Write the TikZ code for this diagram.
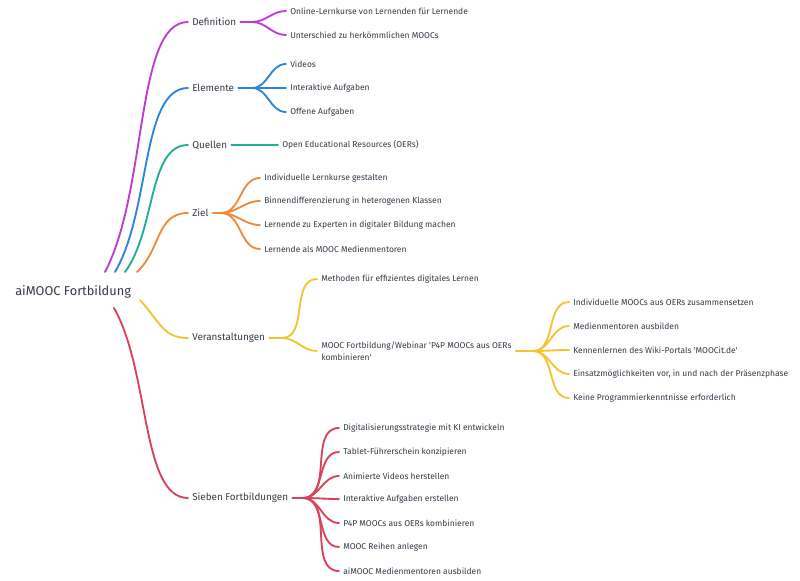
\documentclass[tikz,border=0pt]{standalone}
\usepackage{fontspec}
\setmainfont{Fira Sans}

\definecolor{txt}{HTML}{333A45}
\definecolor{cdef}{HTML}{C03BD1}
\definecolor{celem}{HTML}{2D84DB}
\definecolor{cquel}{HTML}{1FAE96}
\definecolor{cziel}{HTML}{EE8A3C}
\definecolor{cvera}{HTML}{F4C330}
\definecolor{csieb}{HTML}{D7435B}

\begin{document}
\begin{tikzpicture}[
  x=0.75pt, y=-0.75pt,
  line cap=round, line join=round,
  every node/.style={text=txt, anchor=west, inner sep=3pt},
  root/.style={font=\fontsize{9.6}{12}\selectfont},
  topic/.style={font=\fontsize{7.4}{9.5}\selectfont},
  leaf/.style={font=\fontsize{6.35}{9}\selectfont},
  link/.style={line width=1.4pt},
]
\useasboundingbox (0,0) rectangle (800,581);

% root and first level
\node[root] (root) at (11,292) {aiMOOC Fortbildung};
\node[topic] (def)  at (188,22)  {Definition};
\node[topic] (elem) at (188,88)  {Elemente};
\node[topic] (quel) at (188,145) {Quellen};
\node[topic] (ziel) at (188,213) {Ziel};
\node[topic] (vera) at (188,338) {Veranstaltungen};
\node[topic] (sieb) at (188,498) {Sieben Fortbildungen};

\coordinate (rdef)  at (105,272);
\coordinate (relem) at (115,272);
\coordinate (rquel) at (125,272);
\coordinate (rziel) at (137,272);
\coordinate (rvera) at (140,300);
\coordinate (rsieb) at (114,308);

\draw[link, cdef]  (rdef)  .. controls +(43,-82) and +(-53,0) .. (def.west);
\draw[link, celem] (relem) .. controls +(36,-61) and +(-47,0) .. (elem.west);
\draw[link, cquel] (rquel) .. controls +(31,-42) and +(-40,0) .. (quel.west);
\draw[link, cziel] (rziel) .. controls +(24,-22) and +(-32,0) .. (ziel.west);
\draw[link, cvera] (rvera) .. controls +(20,22) and +(-25,0) .. (vera.west);
\draw[link, csieb] (rsieb) .. controls +(36,63) and +(-47,0) .. (sieb.west);

% Definition
\node[leaf] (def1) at (286,11) {Online-Lernkurse von Lernenden für Lernende};
\node[leaf] (def2) at (286,35) {Unterschied zu herkömmlichen MOOCs};
\draw[link, cdef] (def.east) -- (252,22) coordinate (defs);
\foreach \n in {def1,def2}
  \draw[link, cdef] (defs) to[out=0, in=180] (\n.west);

% Elemente
\node[leaf] (elem1) at (286,64)  {Videos};
\node[leaf] (elem2) at (286,88)  {Interaktive Aufgaben};
\node[leaf] (elem3) at (286,112) {Offene Aufgaben};
\draw[link, celem] (elem.east) -- (252,88) coordinate (elems);
\foreach \n in {elem1,elem2,elem3}
  \draw[link, celem] (elems) to[out=0, in=180] (\n.west);

% Quellen
\node[leaf] (quel1) at (278,145) {Open Educational Resources (OERs)};
\draw[link, cquel] (quel.east) -- (quel1.west);

% Ziel
\node[leaf] (ziel1) at (260,178) {Individuelle Lernkurse gestalten};
\node[leaf] (ziel2) at (260,201) {Binnendifferenzierung in heterogenen Klassen};
\node[leaf] (ziel3) at (260,225) {Lernende zu Experten in digitaler Bildung machen};
\node[leaf] (ziel4) at (260,249) {Lernende als MOOC Medienmentoren};
\draw[link, cziel] (ziel.east) -- (221,213) coordinate (ziels);
\foreach \n in {ziel1,ziel2,ziel3,ziel4}
  \draw[link, cziel] (ziels) to[out=0, in=180] (\n.west);

% Veranstaltungen
\node[leaf] (vera1) at (317,279) {Methoden für effizientes digitales Lernen};
\node[leaf, align=left] (vera2) at (317,351)
  {MOOC Fortbildung/Webinar \textquotesingle P4P MOOCs aus OERs\\kombinieren\textquotesingle};
\draw[link, cvera] (vera.east) -- (282,338) coordinate (veras);
\foreach \n in {vera1,vera2}
  \draw[link, cvera] (veras) to[out=0, in=180] (\n.west);

\node[leaf] (mooc1) at (569,302) {Individuelle MOOCs aus OERs zusammensetzen};
\node[leaf] (mooc2) at (569,326) {Medienmentoren ausbilden};
\node[leaf] (mooc3) at (569,350) {Kennenlernen des Wiki-Portals \textquotesingle MOOCit.de\textquotesingle};
\node[leaf] (mooc4) at (569,374) {Einsatzmöglichkeiten vor, in und nach der Präsenzphase};
\node[leaf] (mooc5) at (569,398) {Keine Programmierkenntnisse erforderlich};
\draw[link, cvera] (vera2.east) -- (533,351) coordinate (moocs);
\foreach \n in {mooc1,mooc2,mooc3,mooc4,mooc5}
  \draw[link, cvera] (moocs) to[out=0, in=180] (\n.west);

% Sieben Fortbildungen
\node[leaf] (sieb1) at (339,428) {Digitalisierungsstrategie mit KI entwickeln};
\node[leaf] (sieb2) at (339,452) {Tablet-Führerschein konzipieren};
\node[leaf] (sieb3) at (339,476) {Animierte Videos herstellen};
\node[leaf] (sieb4) at (339,499) {Interaktive Aufgaben erstellen};
\node[leaf] (sieb5) at (339,523) {P4P MOOCs aus OERs kombinieren};
\node[leaf] (sieb6) at (339,547) {MOOC Reihen anlegen};
\node[leaf] (sieb7) at (339,571) {aiMOOC Medienmentoren ausbilden};
\draw[link, csieb] (sieb.east) -- (303,498) coordinate (siebs);
\foreach \n in {sieb1,sieb2,sieb3,sieb4,sieb5,sieb6,sieb7}
  \draw[link, csieb] (siebs) to[out=0, in=180] (\n.west);
\end{tikzpicture}
\end{document}
